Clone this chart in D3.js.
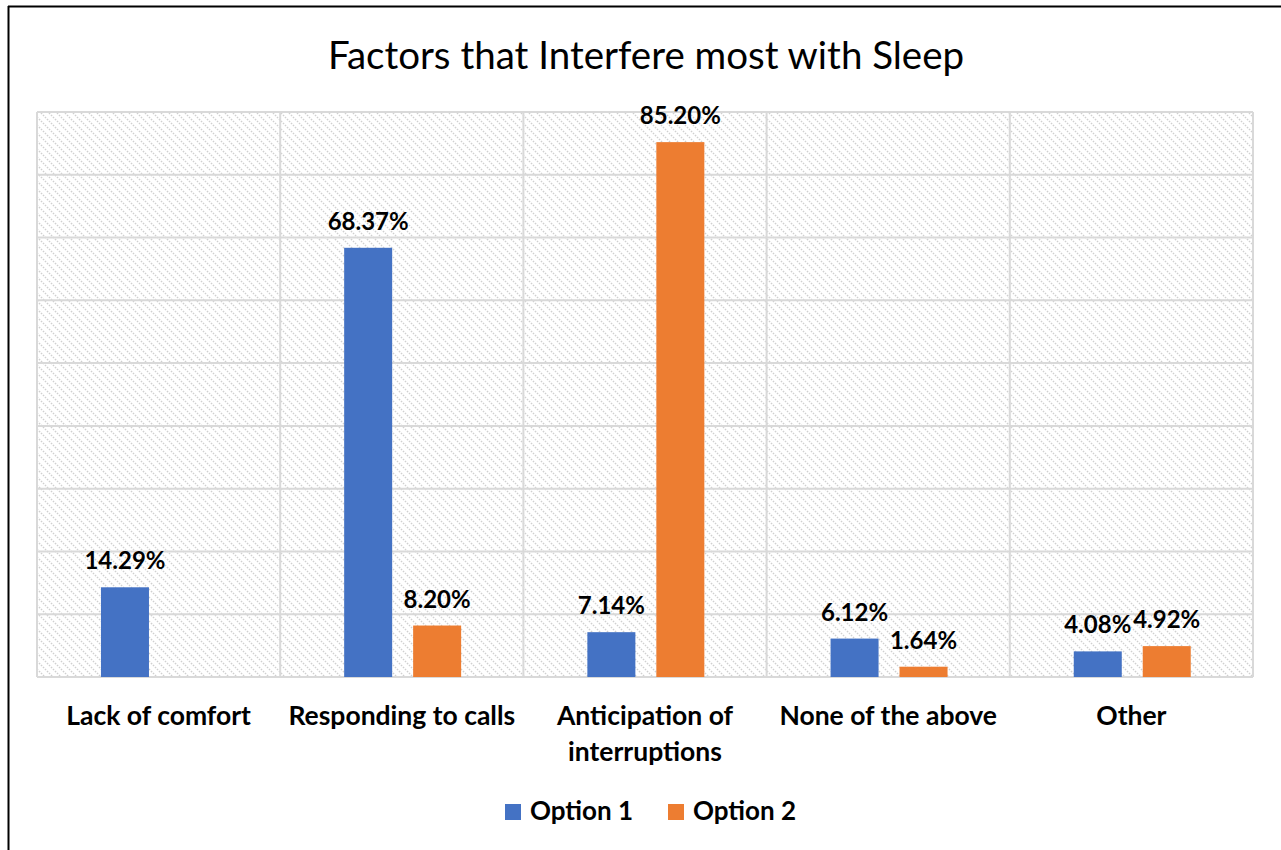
<!DOCTYPE html>
<html>
<head>
<meta charset="utf-8">
<script src="https://cdn.jsdelivr.net/npm/d3@7"></script>
<style>
  html, body { margin: 0; padding: 0; background: #fff; }
  svg { display: block; }
  text { font-family: Lato, "Open Sans", sans-serif; }
</style>
</head>
<body>
<svg id="chart" width="1281" height="850"></svg>
<script>
// Chart data
const categories = ["Lack of comfort", "Responding to calls", "Anticipation of interruptions", "None of the above", "Other"];
const categoryLines = [["Lack of comfort"], ["Responding to calls"], ["Anticipation of", "interruptions"], ["None of the above"], ["Other"]];
const seriesNames = ["Option 1", "Option 2"];
const option1 = [14.29, 68.37, 7.14, 6.12, 4.08];
const option2 = [null, 8.20, 85.20, 1.64, 4.92];
const yTicks = [0, 10, 20, 30, 40, 50, 60, 70, 80, 90];
const colors = ["#4472C4", "#ED7D31"];

const svg = d3.select("#chart");
const W = 1281, H = 850;
const plot = { left: 37, right: 1253, top: 112, bottom: 677 };

// Outer chart frame (left and top edges visible)
svg.append("line").attr("x1", 8).attr("x2", W).attr("y1", 6.5).attr("y2", 6.5)
  .attr("stroke", "#000").attr("stroke-width", 2);
svg.append("line").attr("x1", 8.5).attr("x2", 8.5).attr("y1", 6).attr("y2", H)
  .attr("stroke", "#000").attr("stroke-width", 2);

// Title
svg.append("text")
  .attr("x", 646).attr("y", 69)
  .attr("text-anchor", "middle")
  .attr("font-size", 38.5)
  .attr("fill", "#000")
  .text("Factors that Interfere most with Sleep");

// Diagonal hatch fill for the plot area
const defs = svg.append("defs");
const pat = defs.append("pattern")
  .attr("id", "hatch")
  .attr("patternUnits", "userSpaceOnUse")
  .attr("width", 8).attr("height", 8);
pat.append("path")
  .attr("d", "M-1,-1 L9,9 M-1,7 L1,9 M7,-1 L9,1")
  .attr("stroke", "#d0d0d0")
  .attr("stroke-width", 1.4)
  .attr("stroke-dasharray", "1.6,1.2");

svg.append("rect")
  .attr("x", plot.left).attr("y", plot.top)
  .attr("width", plot.right - plot.left).attr("height", plot.bottom - plot.top)
  .attr("fill", "url(#hatch)");

// Scales
const x = d3.scaleBand().domain(categories).range([plot.left, plot.right]).padding(0);
const bw = x.bandwidth();
const inner = d3.scaleBand().domain(seriesNames)
  .range([bw * 0.263, bw * 0.744])
  .paddingInner(0.304).paddingOuter(0);
const y = d3.scaleLinear().domain([0, 90]).range([plot.bottom, plot.top]);

// Horizontal gridlines
svg.append("g").selectAll("line").data(yTicks).join("line")
  .attr("x1", plot.left).attr("x2", plot.right)
  .attr("y1", d => y(d)).attr("y2", d => y(d))
  .attr("stroke", "#d9d9d9").attr("stroke-width", 2);

// Vertical category dividers
const dividers = categories.map(c => x(c)).concat([plot.right]);
svg.append("g").selectAll("line").data(dividers).join("line")
  .attr("x1", d => d).attr("x2", d => d)
  .attr("y1", plot.top).attr("y2", plot.bottom)
  .attr("stroke", "#d9d9d9").attr("stroke-width", 2);

// Bars
const rows = [];
categories.forEach((c, i) => {
  [option1, option2].forEach((arr, s) => {
    if (arr[i] != null) rows.push({ cat: c, series: seriesNames[s], value: arr[i], color: colors[s] });
  });
});

svg.append("g").selectAll("rect").data(rows).join("rect")
  .attr("x", d => x(d.cat) + inner(d.series))
  .attr("y", d => y(d.value))
  .attr("width", inner.bandwidth())
  .attr("height", d => y(0) - y(d.value))
  .attr("fill", d => d.color);

// Value labels
svg.append("g").selectAll("text").data(rows).join("text")
  .attr("x", d => x(d.cat) + inner(d.series) + inner.bandwidth() / 2)
  .attr("y", d => y(d.value) - 18)
  .attr("text-anchor", "middle")
  .attr("font-size", 24)
  .attr("font-weight", "bold")
  .attr("fill", "#000")
  .text(d => d.value.toFixed(2) + "%");

// Category axis labels
const catG = svg.append("g");
categories.forEach((c, i) => {
  const t = catG.append("text")
    .attr("x", x(c) + bw / 2)
    .attr("y", 725)
    .attr("text-anchor", "middle")
    .attr("font-size", 26.5)
    .attr("font-weight", "bold")
    .attr("fill", "#000");
  categoryLines[i].forEach((line, k) => {
    t.append("tspan").attr("x", x(c) + bw / 2).attr("dy", k === 0 ? 0 : 36).text(line);
  });
});

// Legend
const legend = [
  { name: seriesNames[0], color: colors[0], x: 505 },
  { name: seriesNames[1], color: colors[1], x: 668 }
];
const lg = svg.append("g");
legend.forEach(l => {
  lg.append("rect").attr("x", l.x).attr("y", 804).attr("width", 16).attr("height", 16).attr("fill", l.color);
  lg.append("text").attr("x", l.x + 25).attr("y", 820)
    .attr("font-size", 26).attr("font-weight", "bold").attr("fill", "#000")
    .text(l.name);
});
</script>
</body>
</html>
